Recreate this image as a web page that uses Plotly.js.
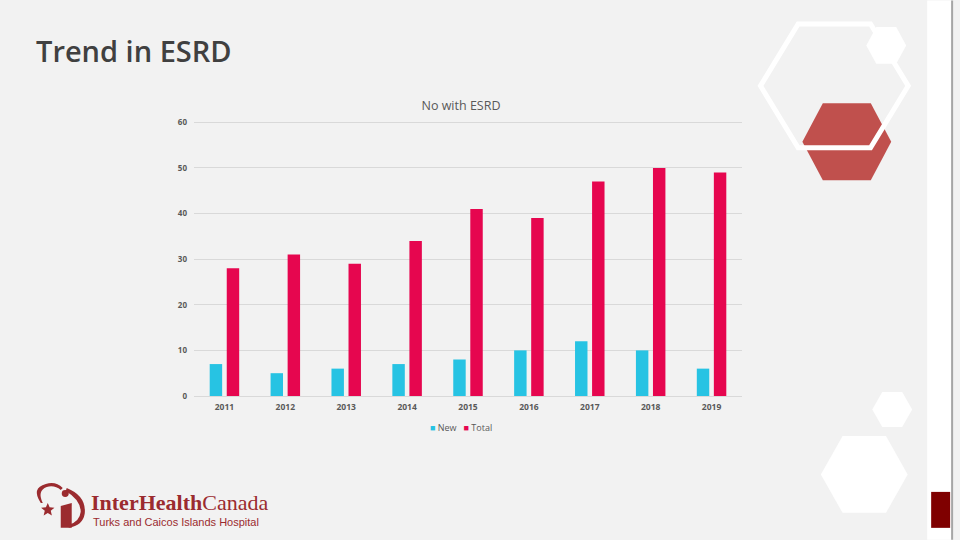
<!DOCTYPE html>
<html><head><meta charset="utf-8">
<script src="https://cdn.plot.ly/plotly-3.0.1.min.js"></script>
<style>html,body{margin:0;padding:0;background:#f2f2f2;overflow:hidden;} #chart{width:960px;height:540px;}</style>
</head><body><div id="chart"></div>
<script>
// ---- data ----
const years = ['2011','2012','2013','2014','2015','2016','2017','2018','2019'];
const newCases = [7,5,6,7,8,10,12,10,6];
const totalCases = [28,31,29,34,41,39,47,50,49];
const yTicks = [0,10,20,30,40,50,60];
const seriesNames = ['New','Total'];
const seriesColors = ['#27c3e3','#e6064f'];

// ---- pixel -> paper helpers (decoration only) ----
const L=193.5, R=742.5, T=119.7, B=396;
function px(x){return (x-L)/(R-L);}
function py(y){return (B-y)/(B-T);}
function poly(pts){return 'M'+pts.map(p=>px(p[0]).toFixed(5)+','+py(p[1]).toFixed(5)).join(' L')+' Z';}
function hex(cx,cy,w,h,f){f=f||0.25;return poly([[cx-w/2,cy],[cx-w*f,cy-h/2],[cx+w*f,cy-h/2],[cx+w/2,cy],[cx+w*f,cy+h/2],[cx-w*f,cy+h/2]]);}
function rect(x0,y0,x1,y1,fill){return {type:'rect',xref:'paper',yref:'paper',x0:px(x0),x1:px(x1),y0:py(y1),y1:py(y0),fillcolor:fill,line:{width:0},layer:'above'};}
function pathShape(d,fill,lc,lw){return {type:'path',xref:'paper',yref:'paper',path:d,fillcolor:fill,line:{color:lc||'rgba(0,0,0,0)',width:lw||0},layer:'above'};}

const logoRed='#9b2b2f';
function leaf(cx,cy,r){const pts=[];for(let i=0;i<10;i++){const a=-Math.PI/2+i*Math.PI/5;const rr=i%2?r*0.45:r;pts.push([cx+rr*Math.cos(a),cy+rr*Math.sin(a)]);}return poly(pts);}
function pth(cmds){return cmds.map(c=>c[0]+(c.length>1?c.slice(1).reduce((s,p,i)=>s+(i%2?',':(i?' ':''))+(i%2?py(p):px(p)).toFixed(5),''):'')).join(' ');}

const shapes=[
  rect(928,0,952,540,'#ffffff'),
  rect(952,0,954,540,'#a6a6a6'),
  rect(932,492,951,528,'#7f0000'),
  pathShape(hex(847.5,141.5,89,77,0.27),'#c0504d'),
  pathShape(hex(835,85.5,148,124,0.245),'rgba(0,0,0,0)','#ffffff',5),
  pathShape(hex(887,45,40,37),'#ffffff'),
  pathShape(hex(893,409.5,40,35),'#ffffff'),
  pathShape(hex(865,474.5,87,77),'#ffffff'),
  pathShape(pth([['M',40,503],['Q',30,488,45,484],['Q',55,481,62,488],['L',60,490],['Q',54,485,46,487],['Q',36,491,42,503],['Z']]),logoRed),
  pathShape(pth([['M',66,488],['Q',86,496,84,514],['Q',82,526,68,528],['L',68,525],['Q',79,522,80,512],['Q',80,500,65,491],['Z']]),logoRed),
  pathShape(pth([['M',60,506],['L',71,503],['L',71,528],['L',60,528],['Z']]),logoRed),
  {type:'circle',xref:'paper',yref:'paper',x0:px(61),x1:px(68),y0:py(497),y1:py(490),fillcolor:logoRed,line:{width:0},layer:'above'},
  pathShape(leaf(47,510,7),logoRed)
];

const legendText = seriesNames.map((n,i)=>'<span style="color:'+seriesColors[i]+'">■</span> '+n).join('   ');

const annotations=[
  {xref:'paper',yref:'paper',x:px(33),y:py(50),xanchor:'left',yanchor:'middle',showarrow:false,
   text:'Trend in ESRD',font:{family:'Open Sans',size:29,color:'#404040',weight:600}},
  {xref:'paper',yref:'paper',x:px(88),y:py(503),xanchor:'left',yanchor:'middle',showarrow:false,
   text:'<b>InterHealth</b>Canada',font:{family:'Liberation Serif',size:22,color:logoRed}},
  {xref:'paper',yref:'paper',x:px(90),y:py(522),xanchor:'left',yanchor:'middle',showarrow:false,
   text:'Turks and Caicos Islands Hospital',font:{family:'Liberation Sans',size:11,color:logoRed}},
  {xref:'paper',yref:'paper',x:px(461),y:py(428),xanchor:'center',yanchor:'middle',showarrow:false,
   text:legendText,font:{family:'Open Sans',size:9,color:'#595959'}}
];

const traces=[
  {type:'bar',name:seriesNames[0],x:years,y:newCases,marker:{color:seriesColors[0]}},
  {type:'bar',name:seriesNames[1],x:years,y:totalCases,marker:{color:seriesColors[1]}}
];

const layout={
  width:960,height:540,
  margin:{l:L,r:960-R,t:T,b:540-B,pad:0},
  paper_bgcolor:'#f2f2f2',plot_bgcolor:'#f2f2f2',
  barmode:'group',bargap:0.44,bargroupgap:0.27,
  title:{text:'No with ESRD',x:461/960,xref:'container',xanchor:'center',y:1-106/540,yref:'container',yanchor:'middle',
    font:{family:'Open Sans',size:12.5,color:'#595959'}},
  xaxis:{type:'category',showgrid:false,showline:false,zeroline:false,ticks:'',
    tickfont:{family:'Open Sans',size:8.5,color:'#595959',weight:700},ticklabelstandoff:4},
  yaxis:{range:[0,60.5],tickvals:yTicks,ticktext:yTicks.map(String),showgrid:true,gridcolor:'#d9d9d9',gridwidth:1,
    zeroline:true,zerolinecolor:'#d9d9d9',zerolinewidth:1,showline:false,ticks:'',
    tickfont:{family:'Open Sans',size:8,color:'#595959',weight:700},ticklabelstandoff:6},
  showlegend:false,
  shapes:shapes,annotations:annotations
};

Plotly.newPlot('chart',traces,layout,{displayModeBar:false,staticPlot:true});
</script></body></html>
